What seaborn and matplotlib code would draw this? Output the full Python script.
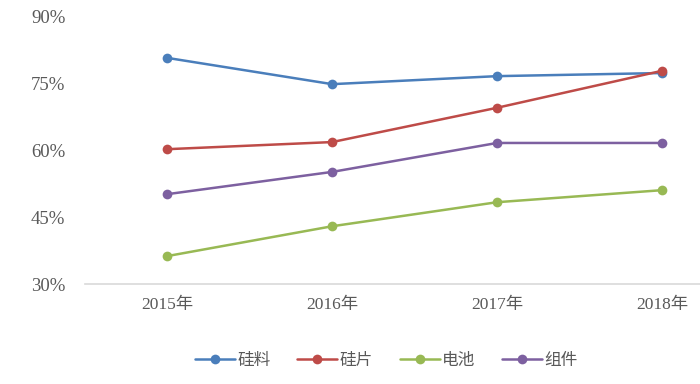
import seaborn as sns
import pandas as pd
import matplotlib.pyplot as plt
from matplotlib.ticker import FuncFormatter

years = ['2015年', '2016年', '2017年', '2018年']
series_names = ['硅料', '硅片', '电池', '组件']
silicon = [80.8, 74.9, 76.7, 77.4]
wafer = [60.3, 61.9, 69.6, 77.9]
cell = [36.3, 43.0, 48.4, 51.1]
module = [50.2, 55.2, 61.7, 61.7]
colors = ['#4a7ebb', '#be4b48', '#98b954', '#7d60a0']

df = pd.DataFrame({'年份': years * 4,
                   '系列': [n for n in series_names for _ in years],
                   '值': silicon + wafer + cell + module})
df['x'] = list(range(len(years))) * 4

sns.set_style('white')
plt.rcParams['font.family'] = ['Noto Sans CJK SC', 'DejaVu Sans']

fig = plt.figure(figsize=(7, 3.84), dpi=100)
ax = fig.add_axes([0.121, 0.26, 0.879, 0.696])

sns.lineplot(data=df, x='x', y='值', hue='系列', palette=colors,
             marker='o', markersize=7, markeredgewidth=0, linewidth=1.8, ax=ax)

ax.set_xlim(-0.5, 3.23)
ax.set_ylim(30, 90)
ax.set_yticks([30, 45, 60, 75, 90])
ax.yaxis.set_major_formatter(FuncFormatter(lambda v, p: f'{v:.0f}%'))
ax.set_xticks(range(len(years)))
ax.set_xticklabels(years)
ax.set_xlabel('')
ax.set_ylabel('')

tick_font = ['Liberation Serif', 'Noto Sans CJK SC']
for lab in ax.get_xticklabels():
    lab.set_family(tick_font)
    lab.set_fontsize(12.5)
    lab.set_color('#595959')
for lab in ax.get_yticklabels():
    lab.set_family(tick_font)
    lab.set_fontsize(13.5)
    lab.set_color('#595959')
ax.tick_params(axis='x', length=0, pad=9)
ax.tick_params(axis='y', length=0, pad=14)

for s in ['top', 'right', 'left']:
    ax.spines[s].set_visible(False)
ax.spines['bottom'].set_color('#d9d9d9')
ax.spines['bottom'].set_linewidth(1.2)

ax.legend(loc='center', bbox_to_anchor=(0.49, -0.285), ncol=4, frameon=False,
          fontsize=12, handlelength=2.4, columnspacing=1.6, handletextpad=0.15,
          labelcolor='#595959', title=None)

plt.savefig('out.png', dpi=100)
